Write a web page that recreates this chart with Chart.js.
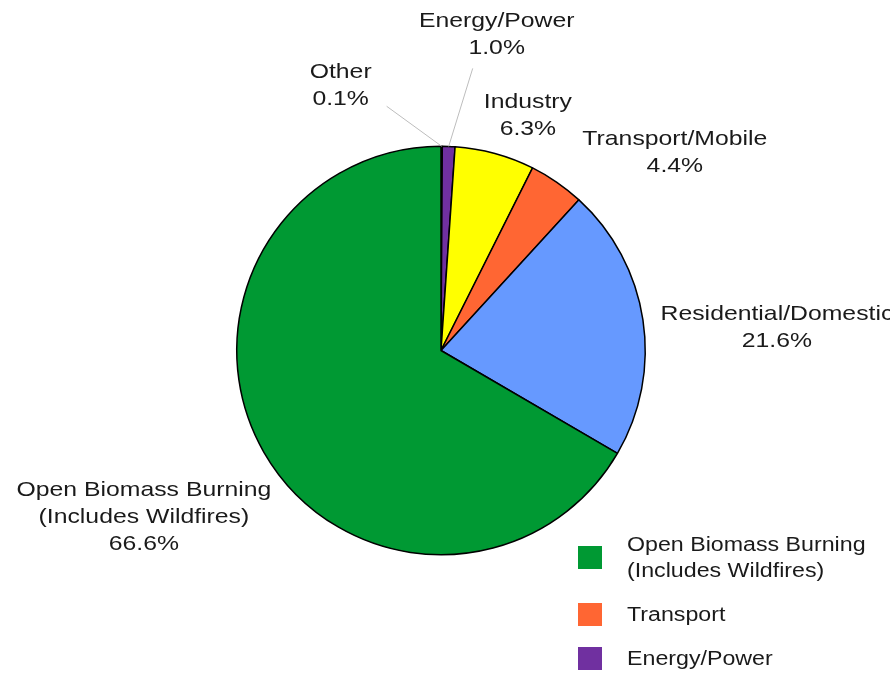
<!DOCTYPE html>
<html>
<head>
<meta charset="utf-8">
<script src="https://cdn.jsdelivr.net/npm/chart.js@4"></script>
<style>
  html, body { margin: 0; padding: 0; background: #fff; }
  #wrap { position: relative; width: 890px; height: 673px; overflow: hidden; }
</style>
</head>
<body>
<div id="wrap"><canvas id="myChart" width="890" height="673"></canvas></div>
<script>
// sources, clockwise from 12 o'clock
const categories = ["Other", "Energy/Power", "Industry", "Transport/Mobile", "Residential/Domestic", "Open Biomass Burning (Includes Wildfires)"];
const shares = [0.1, 1.0, 6.3, 4.4, 21.6, 66.6];
const sliceColors = ["#222222", "#7030a0", "#ffff00", "#ff6633", "#6699ff", "#009933"];
const labelLines = [
  ["Other", "0.1%"],
  ["Energy/Power", "1.0%"],
  ["Industry", "6.3%"],
  ["Transport/Mobile", "4.4%"],
  ["Residential/Domestic", "21.6%"],
  ["Open Biomass Burning", "(Includes Wildfires)", "66.6%"]
];
// legend (only part of it is visible in the original)
const legendNames = [["Open Biomass Burning", "(Includes Wildfires)"], ["Transport"], ["Energy/Power"]];
const legendColors = ["#009933", "#ff6633", "#7030a0"];

// label placement: offset of text centre from the slice's outer midpoint, and leader-line end (or null)
const labelOffsets = [[-101, -61], [48, -112], [33, -38], [118, -30], [134, 8], [-120, 65]];
const leaderEnds = [[-55, -40], [24, -78], null, null, null, null];

// original text is drawn a little wide
function wideText(ctx, t, x, y, stretch) {
  ctx.save();
  ctx.translate(x, y);
  ctx.scale(stretch, 1);
  ctx.fillText(t, 0, 0);
  ctx.restore();
}

const sliceLabels = {
  id: "sliceLabels",
  afterDatasetsDraw(chart) {
    const ctx = chart.ctx;
    const arcs = chart.getDatasetMeta(0).data;
    ctx.save();
    ctx.font = "21px 'Liberation Sans', Arial, sans-serif";
    ctx.fillStyle = "#1a1a1a";
    ctx.textAlign = "center";
    ctx.textBaseline = "middle";
    arcs.forEach((arc, i) => {
      const p = arc.getProps(["x", "y", "startAngle", "endAngle", "outerRadius"], true);
      const mid = (p.startAngle + p.endAngle) / 2;
      const ax = p.x + Math.cos(mid) * p.outerRadius;
      const ay = p.y + Math.sin(mid) * p.outerRadius;
      if (leaderEnds[i]) {
        ctx.strokeStyle = "#bdbdbd";
        ctx.lineWidth = 1;
        ctx.beginPath();
        ctx.moveTo(ax, ay);
        ctx.lineTo(ax + leaderEnds[i][0], ay + leaderEnds[i][1]);
        ctx.stroke();
      }
      const lines = labelLines[i];
      const lh = 27;
      const cx = ax + labelOffsets[i][0];
      const cy = ay + labelOffsets[i][1] - (lines.length - 1) * lh / 2;
      lines.forEach((t, k) => wideText(ctx, t, cx, cy + k * lh, 1.18));
    });
    ctx.restore();
  }
};

const partLegend = {
  id: "partLegend",
  afterDraw(chart) {
    const ctx = chart.ctx;
    const rowMids = [558, 615, 659];
    ctx.save();
    ctx.font = "20px 'Liberation Sans', Arial, sans-serif";
    ctx.textAlign = "left";
    ctx.textBaseline = "middle";
    legendNames.forEach((lines, i) => {
      ctx.fillStyle = legendColors[i];
      ctx.fillRect(578, rowMids[i] - 12, 24, 23);
      ctx.fillStyle = "#1a1a1a";
      const top = rowMids[i] - (lines.length - 1) * 26 / 2;
      lines.forEach((t, k) => wideText(ctx, t, 627, top + k * 26, 1.16));
    });
    ctx.restore();
  }
};

const ctx = document.getElementById("myChart").getContext("2d");
const myPie = new Chart(ctx, {
  type: "pie",
  data: {
    labels: categories,
    datasets: [{
      data: shares,
      backgroundColor: sliceColors,
      borderColor: "#000",
      borderWidth: 1.5
    }]
  },
  options: {
    responsive: false,
    animation: false,
    layout: { padding: { top: 145, bottom: 117, left: 236, right: 244 } },
    plugins: {
      legend: { display: false },
      tooltip: { enabled: false }
    }
  },
  plugins: [sliceLabels, partLegend]
});
</script>
</body>
</html>
